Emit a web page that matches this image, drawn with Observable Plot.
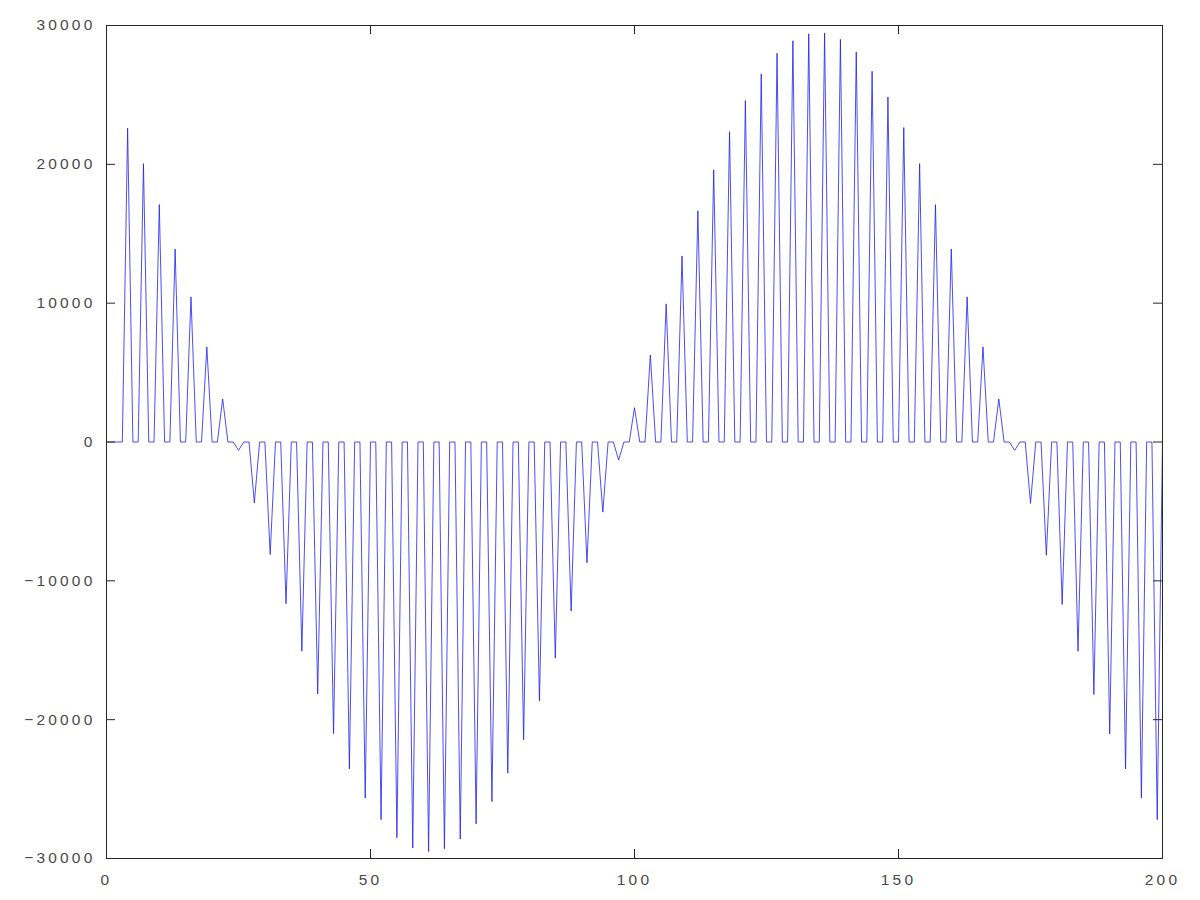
<!DOCTYPE html>
<html>
<head>
<meta charset="utf-8">
<script src="https://cdn.jsdelivr.net/npm/d3@7"></script>
<script src="https://cdn.jsdelivr.net/npm/@observablehq/plot@0.6"></script>
<style>
  html, body { margin: 0; padding: 0; background: #ffffff; }
  #chart { width: 1200px; height: 900px; }
</style>
</head>
<body>
<div id="chart"></div>
<script>
// Sample values, index 0..200 (x = sample index)
const signal = [
  0, 0,
  0, 0, 22600,
  0, 0, 20050,
  0, 0, 17100,
  0, 0, 13900,
  0, 0, 10450,
  0, 0, 6850,
  0, 0, 3100,
  0, 0, -600,
  0, 0, -4380,
  0, 0, -8100,
  0, 0, -11650,
  0, 0, -15070,
  0, 0, -18150,
  0, 0, -21000,
  0, 0, -23550,
  0, 0, -25650,
  0, 0, -27200,
  0, 0, -28500,
  0, 0, -29250,
  0, 0, -29500,
  0, 0, -29300,
  0, 0, -28600,
  0, 0, -27500,
  0, 0, -25900,
  0, 0, -23850,
  0, 0, -21450,
  0, 0, -18650,
  0, 0, -15570,
  0, 0, -12180,
  0, 0, -8700,
  0, 0, -5050,
  0, 0, -1300,
  0, 0, 2470,
  0, 0, 6270,
  0, 0, 9950,
  0, 0, 13400,
  0, 0, 16650,
  0, 0, 19600,
  0, 0, 22350,
  0, 0, 24600,
  0, 0, 26500,
  0, 0, 28000,
  0, 0, 28900,
  0, 0, 29400,
  0, 0, 29450,
  0, 0, 29000,
  0, 0, 28100,
  0, 0, 26700,
  0, 0, 24850,
  0, 0, 22650,
  0, 0, 20050,
  0, 0, 17100,
  0, 0, 13900,
  0, 0, 10450,
  0, 0, 6850,
  0, 0, 3100,
  0, 0, -600,
  0, 0, -4420,
  0, 0, -8150,
  0, 0, -11700,
  0, 0, -15070,
  0, 0, -18190,
  0, 0, -21030,
  0, 0, -23550,
  0, 0, -25650,
  0, 0, -27200,
  0
];
const xTicks = [0, 50, 100, 150, 200];
const yTicks = [-30000, -20000, -10000, 0, 10000, 20000, 30000];
const xDomain = [0, 200];
const yDomain = [-30000, 30000];

const data = signal.map((v, i) => ({x: i, y: v}));

const W = 1200, H = 900;
const mL = 106, mR = 38, mT = 25, mB = 42;
const plotW = W - mL - mR, plotH = H - mT - mB;
const tickLen = 9;
const axisColor = "#262626";
const textColor = "#4a4a4a";
const fmt = d => String(d).replace("-", "\u2212");

const chart = Plot.plot({
  width: W,
  height: H,
  marginLeft: mL,
  marginRight: mR,
  marginTop: mT,
  marginBottom: mB,
  style: {
    fontFamily: "'Liberation Sans', Arial, sans-serif",
    fontSize: "15.5px",
    letterSpacing: "3.2px",
    background: "#ffffff",
    color: textColor
  },
  x: {domain: xDomain, ticks: xTicks},
  y: {domain: yDomain, ticks: yTicks},
  marks: [
    Plot.line(data, {x: "x", y: "y", stroke: "#2020ee", strokeWidth: 0.8}),
    // inward ticks on all four sides
    Plot.ruleX(xTicks, {x: d => d, insetTop: plotH - tickLen, stroke: axisColor}),
    Plot.ruleX(xTicks, {x: d => d, insetBottom: plotH - tickLen, stroke: axisColor}),
    Plot.ruleY(yTicks, {y: d => d, insetRight: plotW - tickLen, stroke: axisColor}),
    Plot.ruleY(yTicks, {y: d => d, insetLeft: plotW - tickLen, stroke: axisColor}),
    Plot.axisX(xTicks, {anchor: "bottom", tickSize: 0, tickPadding: 15, tickFormat: fmt, fill: textColor, label: null}),
    Plot.axisY(yTicks, {anchor: "left", tickSize: 0, tickPadding: 11, tickFormat: fmt, fill: textColor, label: null}),
    Plot.frame({stroke: axisColor, strokeWidth: 1})
  ]
});

document.getElementById("chart").appendChild(chart);
</script>
</body>
</html>
